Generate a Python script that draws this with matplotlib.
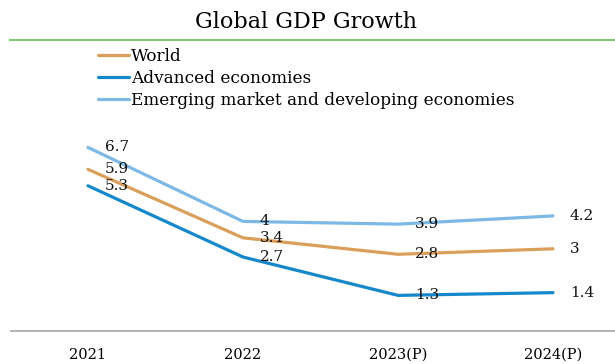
import matplotlib.pyplot as plt
from matplotlib.lines import Line2D

years = ['2021', '2022', '2023(P)', '2024(P)']
world = [5.9, 3.4, 2.8, 3.0]
advanced = [5.3, 2.7, 1.3, 1.4]
emerging = [6.7, 4.0, 3.9, 4.2]
labels = ['World', 'Advanced economies', 'Emerging market and developing economies']
colors = ['#DA9F5B', '#1588CC', '#7DB9E6']

plt.rcParams['font.family'] = ['DejaVu Serif']

W, H = 615, 364
fig = plt.figure(figsize=(W / 100, H / 100), dpi=100)
# axes in pixel terms: left 10, bottom at y=331, right beyond the canvas
ax = fig.add_axes([10.5 / W, (H - 331) / H, 620 / W, (331 - 40) / H])

x = list(range(len(years)))
series = [world, advanced, emerging]
for vals, lab, col in zip(series, labels, colors):
    ax.plot(x, vals, color=col, lw=2.3, solid_capstyle='round', label=lab)
    for xi, v in zip(x, vals):
        ax.annotate('%g' % v, (xi, v), xytext=(12, 0), textcoords='offset points',
                    ha='left', va='center', fontsize=11, color='#111111')

ax.set_xlim(-0.5, 3.5)
ax.set_ylim(0, (331 - 40) / 27.4)
ax.set_xticks(x)
ax.set_xticklabels(years, fontsize=10.5)
ax.tick_params(axis='x', length=0, pad=12)
ax.set_yticks([])
for s in ['top', 'left', 'right']:
    ax.spines[s].set_visible(False)
ax.spines['bottom'].set_color('#A6A6A6')
ax.spines['bottom'].set_linewidth(1.2)

# title with green rule underneath
fig.text(306 / W, 1 - 22 / H, 'Global GDP Growth', ha='center', va='center', fontsize=16)
fig.add_artist(Line2D([10 / W, 1], [1 - 40 / H, 1 - 40 / H], color='#7CC86E', lw=1.5,
                      transform=fig.transFigure))

ax.legend(loc='upper left', bbox_to_anchor=(98 / W, 1 - 48 / H), bbox_transform=fig.transFigure,
          frameon=False, fontsize=12.2, handlelength=1.8, handletextpad=0.15,
          labelspacing=0.3, borderpad=0, borderaxespad=0)

fig.savefig('out.png', dpi=100)
